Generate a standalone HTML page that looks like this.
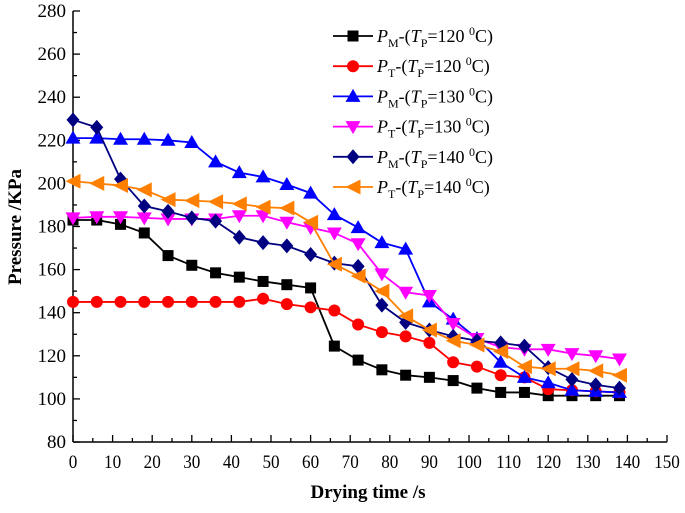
<!DOCTYPE html>
<html><head><meta charset="utf-8"><style>
html,body{margin:0;padding:0;background:#fff}
svg text{font-family:"Liberation Serif",serif;fill:#000}
</style></head><body>
<svg id="chart" width="685" height="508" xmlns="http://www.w3.org/2000/svg">
<g id="axes"></g>
<g id="series"></g>
<g id="legend"></g>
<text x="368" y="498" text-anchor="middle" font-size="19" font-weight="bold">Drying time /s</text>
<text transform="translate(21,227) rotate(-90)" text-anchor="middle" font-size="19" font-weight="bold">Pressure /KPa</text>
</svg>
<script>
const times = [0,6,12,18,24,30,36,42,48,54,60,66,72,78,84,90,96,102,108,114,120,126,132,138];
const pm120 = [183,183,181,177,166.5,162,158.5,156.5,154.5,153,151.5,124.5,118,113.5,111,110,108.5,105,103,103,101.5,101.5,101.5,101.5];
const pt120 = [145,145,145,145,145,145,145,145,146.5,144,142.5,141,134.5,131,129,126,117,115,111,110,104.5,104,103.5,103];
const pm130 = [221,221,220.5,220.5,220,219,210,205,203,199.5,195.5,185.5,179.5,172.5,169.5,145,137,128,117,110,107.5,104,103.5,103];
const pt130 = [184,184.5,184.5,184,183.5,183.5,183.5,185,185,182,179.5,177,172,158,149.5,148,135,128,124,123,123,121,120,118.5];
const pm140 = [229.5,226,202,189.5,187,184,182.5,175,172.5,171,167,163,161.5,143.5,135.5,132,129,127,126,124.5,114.5,109,106.5,105];
const pt140 = [201,200,199,197,192.5,192,191.5,190.5,189,188.5,182,162.5,157,150,138.5,132,127,125,122,115,114,114,113,111];
const xTicks = [0,10,20,30,40,50,60,70,80,90,100,110,120,130,140,150];
const yTicks = [80,100,120,140,160,180,200,220,240,260,280];

const NS="http://www.w3.org/2000/svg";
const X0=73,X1=667,Y0=442,Y1=11;
const xs=v=>X0+(v-0)/150*(X1-X0);
const ys=v=>Y0-(v-80)/200*(Y0-Y1);
function mk(tag,attrs,parent){const e=document.createElementNS(NS,tag);for(const k in attrs)e.setAttribute(k,attrs[k]);parent.appendChild(e);return e;}
const axes=document.getElementById('axes');
let l=mk('line',{x1:X0,y1:Y0,x2:X1,y2:Y0,stroke:'#000','stroke-width':1.5},axes);


l=mk('line',{x1:X0,y1:Y0,x2:X0,y2:Y1,stroke:'#000','stroke-width':1.5},axes);


for(let v=0;v<=150;v+=5){const x=xs(v);mk('line',{x1:x,y1:Y0,x2:x,y2:Y0-(v%10?4:7),stroke:'#000','stroke-width':1.3},axes);}
for(let v=80;v<=280;v+=10){const y=ys(v);mk('line',{x1:X0,y1:y,x2:X0+(v%20?4:7),y2:y,stroke:'#000','stroke-width':1.3},axes);}
xTicks.forEach(v=>{const t=mk('text',{x:xs(v),y:Y0+26,'text-anchor':'middle','font-size':19,transform:`translate(${xs(v)},0) scale(0.9,1) translate(${-xs(v)},0)`},axes);t.textContent=v;

});
yTicks.forEach(v=>{const t=mk('text',{x:X0-7,y:ys(v)+6,'text-anchor':'end','font-size':19},axes);t.textContent=v;

});

function marker(shape,cx,cy,color,g){
  const s=6.5;
  if(shape==='square') return mk('rect',{x:cx-5.5,y:cy-5.5,width:11,height:11,fill:color},g);
  if(shape==='circle') return mk('circle',{cx:cx,cy:cy,r:6,fill:color},g);
  if(shape==='up') return mk('polygon',{points:`${cx},${cy-s-1} ${cx-s-1},${cy+s-1} ${cx+s+1},${cy+s-1}`,fill:color},g);
  if(shape==='down') return mk('polygon',{points:`${cx},${cy+s+1} ${cx-s-1},${cy-s+1} ${cx+s+1},${cy-s+1}`,fill:color},g);
  if(shape==='diamond') return mk('polygon',{points:`${cx},${cy-s-1} ${cx+s},${cy} ${cx},${cy+s+1} ${cx-s},${cy}`,fill:color},g);
  if(shape==='left') return mk('polygon',{points:`${cx-s-1},${cy} ${cx+s+1},${cy-s-1} ${cx+s+1},${cy+s+1}`,fill:color},g);
}
const defs=[
 {d:pm120,c:'#000000',m:'square',sub:'M',t:'120',n:'pm-120'},
 {d:pt120,c:'#ff0000',m:'circle',sub:'T',t:'120',n:'pt-120'},
 {d:pm130,c:'#0000ff',m:'up',sub:'M',t:'130',n:'pm-130'},
 {d:pt130,c:'#ff00ff',m:'down',sub:'T',t:'130',n:'pt-130'},
 {d:pm140,c:'#000080',m:'diamond',sub:'M',t:'140',n:'pm-140'},
 {d:pt140,c:'#ff8000',m:'left',sub:'T',t:'140',n:'pt-140'}];
const sg=document.getElementById('series');
defs.forEach(s=>{
  const g=mk('g',{},sg);
  
  
  const p=mk('polyline',{points:s.d.map((v,i)=>xs(times[i])+','+ys(v)).join(' '),fill:'none',stroke:s.c,'stroke-width':1.8},g);
  
  
  s.d.forEach((v,i)=>{const mm=marker(s.m,xs(times[i]),ys(v),s.c,g);
    
    });
});
const lg=document.getElementById('legend');
defs.forEach((s,i)=>{
  const y=36+i*30.2;
  const g=mk('g',{},lg);
  
  
  mk('line',{x1:333,y1:y,x2:373,y2:y,stroke:s.c,'stroke-width':1.8},g);
  marker(s.m,353,y,s.c,g);
  const t=mk('text',{x:377,y:y+6,'font-size':18},g);
  t.innerHTML=`<tspan font-style="italic">P</tspan><tspan font-size="12" dy="5">${s.sub}</tspan><tspan dy="-5">-(</tspan><tspan font-style="italic">T</tspan><tspan font-size="12" dy="5">P</tspan><tspan dy="-5">=${s.t} </tspan><tspan font-size="12" dy="-7">0</tspan><tspan dy="7">C)</tspan>`;
});
</script>
</body></html>
